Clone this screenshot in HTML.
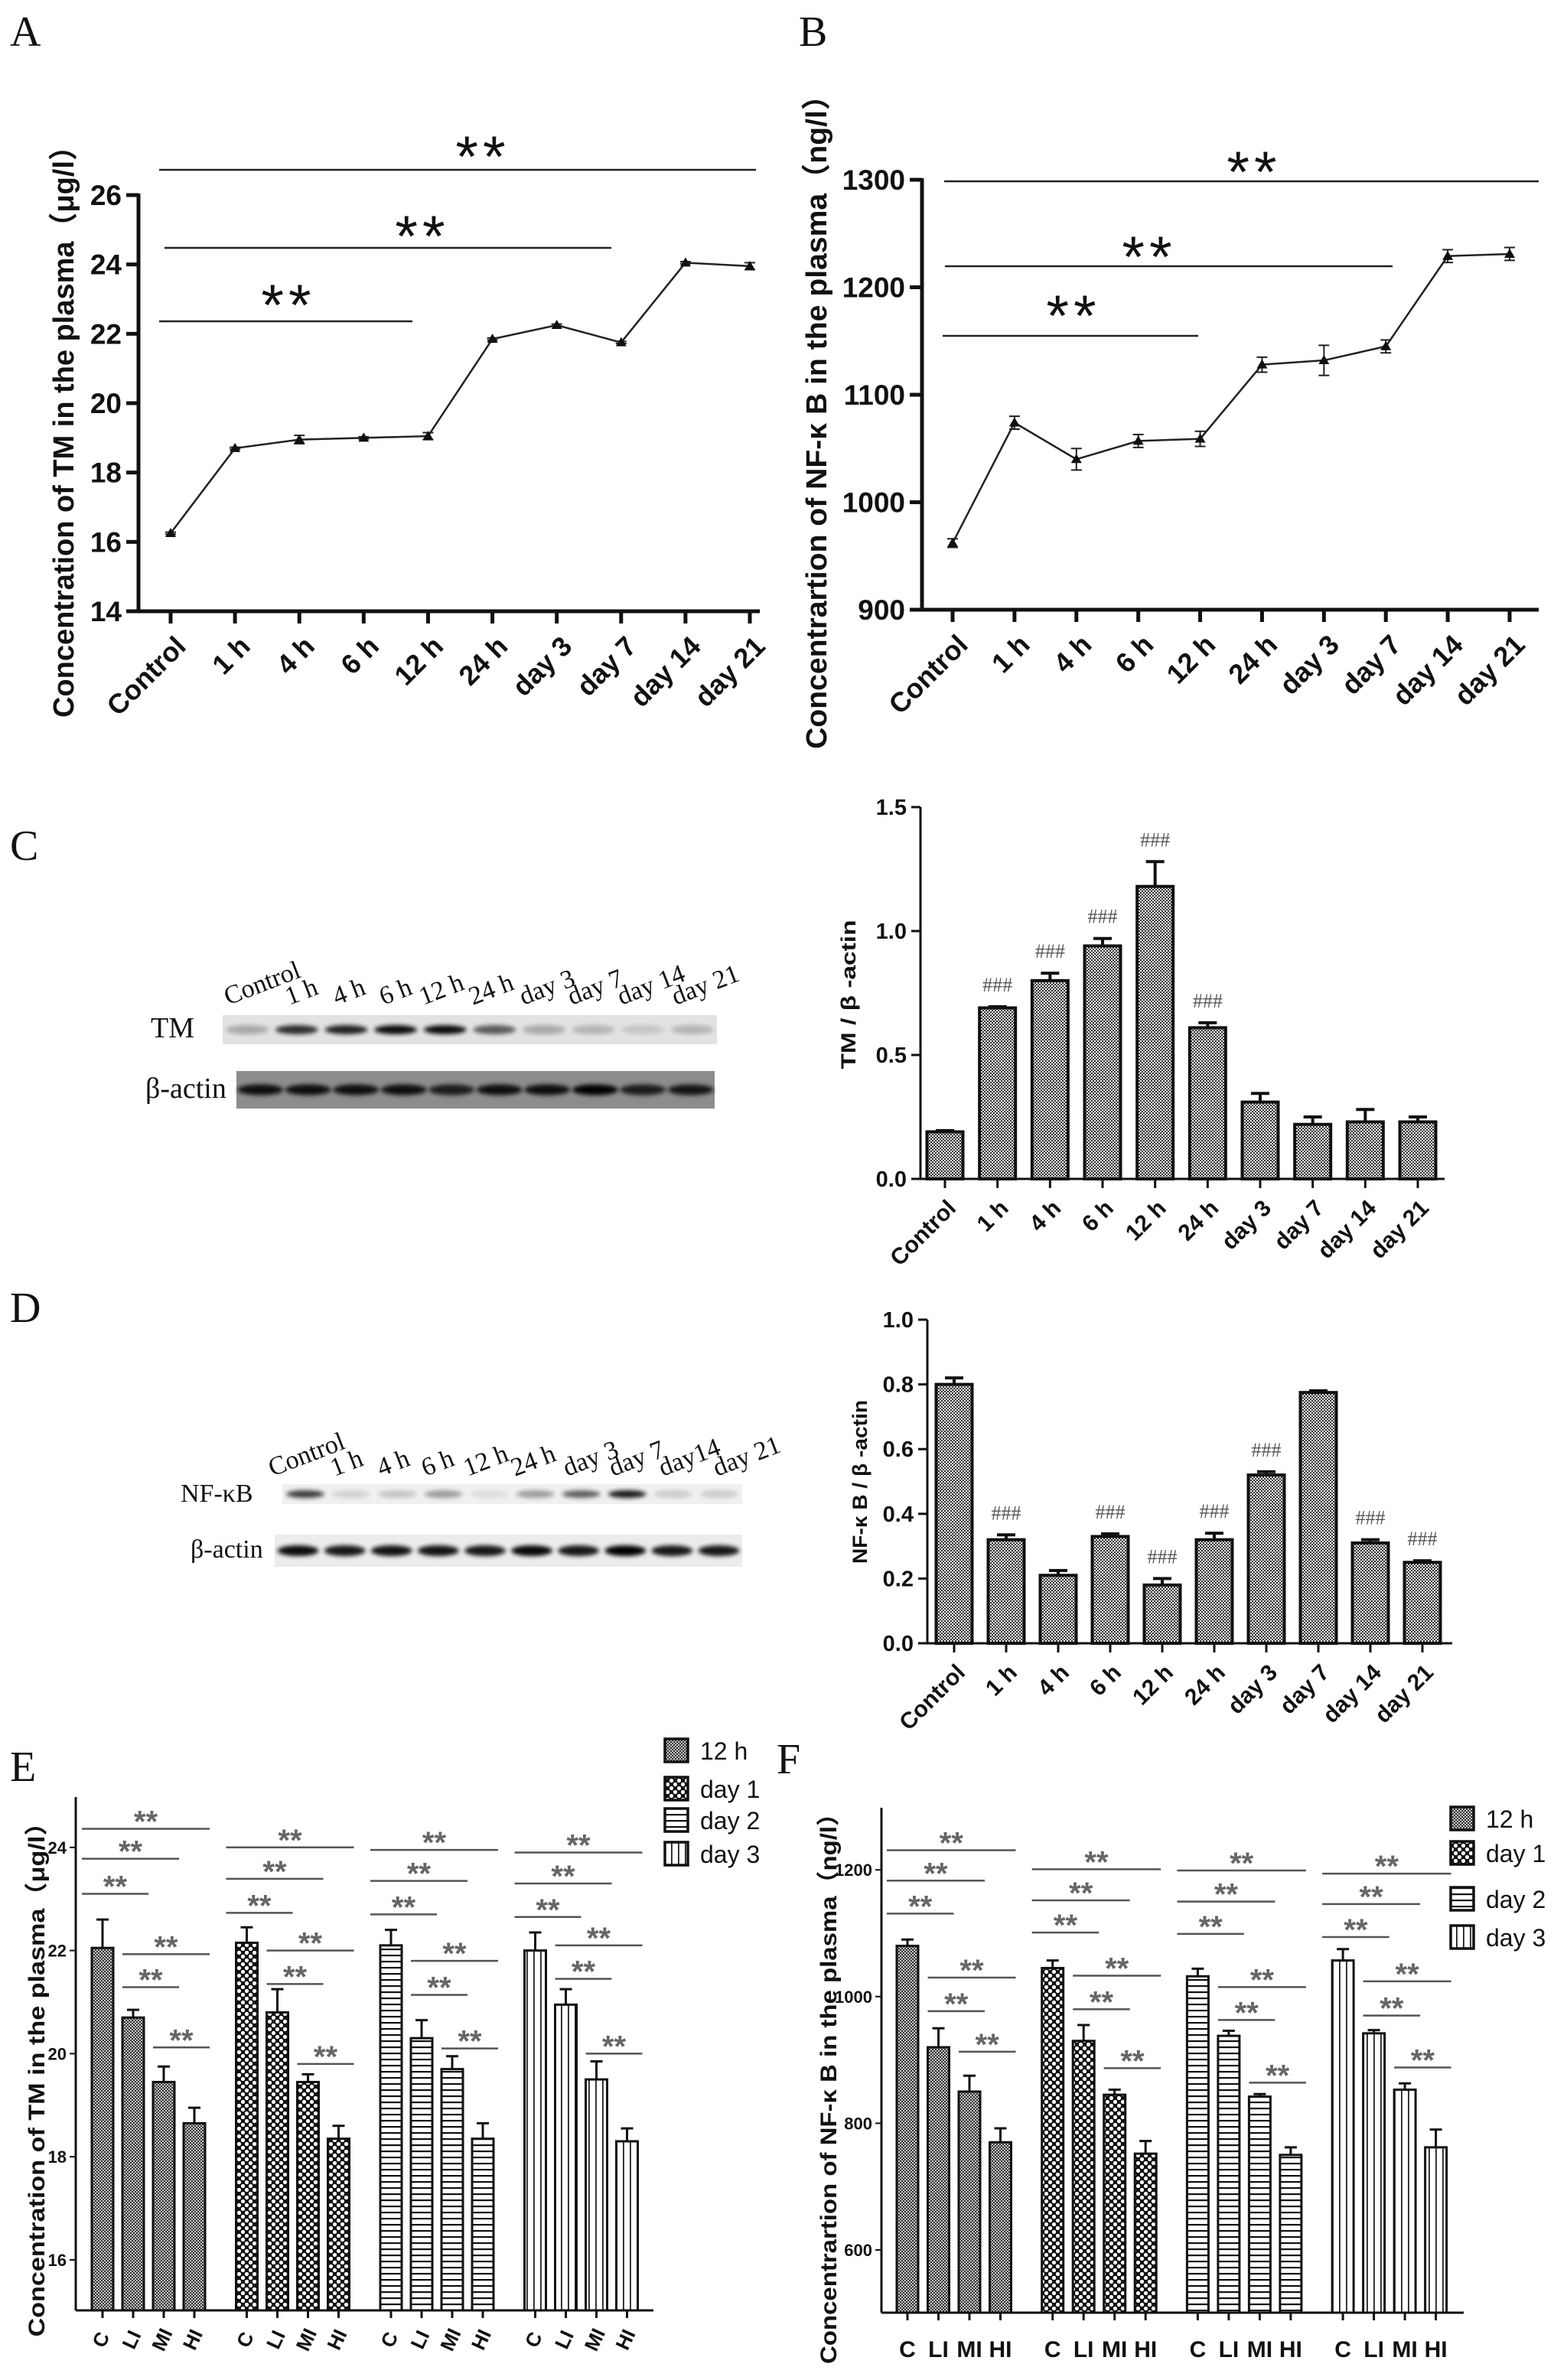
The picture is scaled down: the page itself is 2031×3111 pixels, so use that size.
<!DOCTYPE html>
<html><head><meta charset="utf-8"><style>
html,body{margin:0;padding:0;background:#fff;}
svg{display:block;}
</style></head><body>
<svg id="fig" xmlns="http://www.w3.org/2000/svg" width="2031" height="3111" viewBox="0 0 2031 3111">
<defs>
<pattern id="pFine" width="4" height="4" patternUnits="userSpaceOnUse"><rect width="4" height="4" fill="#eeeeee"/><rect width="2" height="2" fill="#333"/><rect x="2" y="2" width="2" height="2" fill="#333"/></pattern>
<pattern id="p12h" width="4" height="4" patternUnits="userSpaceOnUse"><rect width="4" height="4" fill="#c4c4c4"/><rect width="2" height="2" fill="#333"/><rect x="2" y="2" width="2" height="2" fill="#333"/></pattern>
<pattern id="pDay1" width="10" height="10" patternUnits="userSpaceOnUse"><rect width="10" height="10" fill="#111"/><circle cx="2.5" cy="2.5" r="2.6" fill="#fff"/><circle cx="7.5" cy="7.5" r="2.6" fill="#fff"/></pattern>
<pattern id="pDay2" width="8" height="8" patternUnits="userSpaceOnUse"><rect width="8" height="8" fill="#fff"/><rect y="3" width="8" height="2.2" fill="#111"/></pattern>
<pattern id="pDay3" width="9" height="9" patternUnits="userSpaceOnUse"><rect width="9" height="9" fill="#fff"/><rect x="4" width="1.8" height="9" fill="#222"/></pattern>
<filter id="blur" x="-30%" y="-100%" width="160%" height="300%"><feGaussianBlur stdDeviation="3"/></filter>
</defs>
</svg>
<script>
// ---------- data ----------
const cats = ['Control','1 h','4 h','6 h','12 h','24 h','day 3','day 7','day 14','day 21'];
const tmPlasma = [16.25,18.7,18.95,19.0,19.05,21.85,22.25,21.75,24.05,23.95];
const tmPlasmaErr = [0.03,0.03,0.12,0.03,0.1,0.03,0.03,0.03,0.03,0.1];
const tmPlasmaTicks = [14,16,18,20,22,24,26];
const nfPlasma = [962,1074,1040,1057,1059,1128,1132,1145,1229,1231];
const nfPlasmaErr = [4,6,10,6,7,7,14,6,6,6];
const nfPlasmaTicks = [900,1000,1100,1200,1300];
const tmRatio = [0.19,0.69,0.80,0.94,1.18,0.61,0.31,0.22,0.23,0.23];
const tmRatioErr = [0.005,0.005,0.03,0.03,0.10,0.02,0.035,0.03,0.05,0.02];
const tmRatioHash = [0,1,1,1,1,1,0,0,0,0];
const tmRatioTicks = [0,0.5,1.0,1.5];
const nfRatio = [0.80,0.32,0.21,0.33,0.18,0.32,0.52,0.775,0.31,0.25];
const nfRatioErr = [0.02,0.015,0.015,0.008,0.02,0.02,0.01,0.005,0.01,0.005];
const nfRatioHash = [0,1,0,1,1,1,1,0,1,1];
const nfRatioTicks = [0,0.2,0.4,0.6,0.8,1.0];
const blotLanesC = ['Control','1 h','4 h','6 h','12 h','24 h','day 3','day 7','day 14','day 21'];
const tmBand = [0.25,0.8,0.85,0.95,0.95,0.6,0.25,0.2,0.12,0.2];
const actinBandC = [0.9,0.9,0.9,0.9,0.8,0.9,0.9,1.0,0.8,0.85];
const blotLanesD = ['Control','1 h','4 h','6 h','12 h','24 h','day 3','day 7','day14','day 21'];
const nfBand = [0.75,0.12,0.18,0.35,0.08,0.35,0.6,0.9,0.15,0.15];
const actinBandD = [0.95,0.9,0.92,0.92,0.9,0.97,0.9,1.0,0.9,0.9];
const doseGroups = ['C','LI','MI','HI'];
const timepoints = ['12 h','day 1','day 2','day 3'];
const eVal12h = [22.05,20.7,19.45,18.65];
const eValDay1 = [22.15,20.8,19.45,18.35];
const eValDay2 = [22.1,20.3,19.7,18.35];
const eValDay3 = [22.0,20.95,19.5,18.3];
const eErr12h = [0.55,0.15,0.3,0.3];
const eErrDay1 = [0.3,0.45,0.15,0.25];
const eErrDay2 = [0.3,0.35,0.25,0.3];
const eErrDay3 = [0.35,0.3,0.35,0.25];
const eTicks = [16,18,20,22,24];
const fVal12h = [1080,920,850,770];
const fValDay1 = [1045,930,845,752];
const fValDay2 = [1032,938,842,750];
const fValDay3 = [1057,942,853,762];
const fErr12h = [10,30,25,22];
const fErrDay1 = [12,25,8,20];
const fErrDay2 = [12,8,4,12];
const fErrDay3 = [18,5,10,28];
const fTicks = [600,800,1000,1200];
const sigPairs = [[0,3],[0,2],[0,1],[1,3],[1,2],[2,3]];
const eSig12h = [24.36,23.78,23.1,21.93,21.29,20.12];
const eSigDay1 = [24.0,23.39,22.73,22.0,21.35,19.8];
const eSigDay2 = [23.95,23.35,22.7,21.8,21.14,20.1];
const eSigDay3 = [23.9,23.3,22.65,22.1,21.45,20.0];
const fSig12h = [1231,1183,1131,1030,977,913];
const fSigDay1 = [1201,1152,1101,1033,980,887];
const fSigDay2 = [1199,1150,1099,1015,963,864];
const fSigDay3 = [1194,1146,1094,1024,970,888];

// ---------- helpers ----------
const NS='http://www.w3.org/2000/svg';
const svg=document.getElementById('fig');
function mk(tag,attrs,parent){const e=document.createElementNS(NS,tag);for(const k in attrs)e.setAttribute(k,attrs[k]);(parent||svg).appendChild(e);return e;}
function txt(s,attrs,parent){const e=mk('text',attrs,parent);e.textContent=s;return e;}
const SANS='"Liberation Sans", "Noto Sans CJK SC", sans-serif';
const NARROW='"Liberation Sans Narrow", "Liberation Sans", sans-serif';
const SERIF='"Liberation Serif", serif';

function panelLetter(s,x,y){
  const t=txt(s,{x:x,y:y,'font-family':SERIF,'font-size':56,fill:'#111'});
  
  
}

// ---------- line charts A, B ----------
function lineChart(o){
  const g=mk('g',{});
  
  
  const vmin=o.ticks[0], vmax=o.ticks[o.ticks.length-1];
  const y=v=>o.yBot-(v-vmin)/(vmax-vmin)*(o.yBot-o.yTop);
  const x=i=>o.x0+i*(o.x1-o.x0)/(o.cats.length-1);
  const ya=mk('line',{x1:o.axisX,y1:o.yTop-2,x2:o.axisX,y2:o.yBot,stroke:'#111','stroke-width':5},g);
  
  
  const xa=mk('line',{x1:o.axisX-2,y1:o.yBot,x2:o.axisRight,y2:o.yBot,stroke:'#111','stroke-width':5},g);
  
  
  o.ticks.forEach(v=>{
    mk('line',{x1:o.axisX-16,y1:y(v),x2:o.axisX,y2:y(v),stroke:'#111','stroke-width':5},g);
    const t=txt(String(v),{x:o.axisX-22,y:y(v)+13,'text-anchor':'end','font-family':SANS,'font-weight':'bold','font-size':37,fill:'#111'},g);
    
    
  });
  o.cats.forEach((c,i)=>{
    mk('line',{x1:x(i),y1:o.yBot,x2:x(i),y2:o.yBot+16,stroke:'#111','stroke-width':5},g);
    const t=txt(c,{x:0,y:0,'text-anchor':'end','font-family':SANS,'font-weight':'bold','font-size':36,fill:'#111',transform:`translate(${x(i)+22},${o.yBot+48}) rotate(-45)`},g);
    
    
  });
  const tt=txt(o.title,{x:0,y:0,'text-anchor':'middle','font-family':SANS,'font-weight':'bold','font-size':38,fill:'#111',textLength:o.titleLen,lengthAdjust:'spacingAndGlyphs',transform:`translate(${o.titleX},${o.titleY}) rotate(-90)`},g);
  
  
  const pts=o.vals.map((v,i)=>x(i)+','+y(v)).join(' ');
  const pl=mk('polyline',{points:pts,fill:'none',stroke:'#222','stroke-width':2.5},g);
  
  
  o.vals.forEach((v,i)=>{
    const e=o.errs[i];
    const eb=mk('path',{d:`M${x(i)},${y(v+e)}V${y(v-e)}M${x(i)-7},${y(v+e)}H${x(i)+7}M${x(i)-7},${y(v-e)}H${x(i)+7}`,stroke:'#222','stroke-width':2,fill:'none'},g);
    
    
    const cx=x(i),cy=y(v);
    const m=mk('polygon',{points:`${cx},${cy-7} ${cx-7},${cy+5} ${cx+7},${cy+5}`,fill:'#111'},g);
    
    
  });
  o.sig.forEach(s=>{
    const l=mk('line',{x1:s[0],y1:s[2],x2:s[1],y2:s[2],stroke:'#222','stroke-width':2.5},g);
    
    
    const st=txt('**',{x:s[3],y:s[4]+40,'text-anchor':'middle','font-family':SANS,'font-size':76,'letter-spacing':6,fill:'#111'},g);
    
    
  });
}
panelLetter('A',13,60);
lineChart({name:'chart-a-tm-plasma',cats:cats,vals:tmPlasma,errs:tmPlasmaErr,ticks:tmPlasmaTicks,axisX:181,yTop:255,yBot:799,x0:223,x1:980,axisRight:993,
  title:'Concentration of TM in the plasma（μg/l）',titleX:96,titleY:555,titleLen:766,
  sig:[[208,988,222,631,191],[215,799,324,552,295],[208,539,420,377,385]]});
panelLetter('B',1044,60);
lineChart({name:'chart-b-nfkb-plasma',cats:cats,vals:nfPlasma,errs:nfPlasmaErr,ticks:nfPlasmaTicks,axisX:1205,yTop:235,yBot:797,x0:1245,x1:1973,axisRight:2011,
  title:'Concentrartion of NF-κ B in the  plasma（ng/l）',titleX:1080,titleY:542,titleLen:874,
  sig:[[1234,2011,237,1639,211],[1235,1820,348,1502,322],[1232,1566,439,1403,399]]});

// ---------- blots ----------
function blot(o){
  const g=mk('g',{});
  
  
  o.lanes.forEach((s,i)=>{
    const t=txt(s,{x:0,y:0,'font-family':SERIF,'font-size':34,fill:'#111',transform:`translate(${o.labelX[i]},${o.labelY}) rotate(-21)`},g);
    
    
  });
  o.rows.forEach(r=>{
    const lab=txt(r.label,{x:r.lx,y:r.ly,'font-family':SERIF,'font-size':r.fs,fill:'#111'},g);
    
    
    const bg=mk('rect',{x:r.x,y:r.y,width:r.w,height:r.h,fill:r.bg},g);
    
    
    r.band.forEach((a,i)=>{
      const cx=r.x+r.w*(i+0.5)/r.band.length;
      const b=mk('ellipse',{cx:cx,cy:r.y+r.h/2,rx:r.bw,ry:r.bh,fill:'#000',opacity:a,filter:'url(#blur)'},g);
      
      
    });
  });
}
panelLetter('C',13,1124);
blot({name:'blot-c-tm',lanes:blotLanesC,labelX:[298,378,440,501,553,618,684,747,812,883],labelY:1314,
  rows:[{label:'TM',lx:197,ly:1356,fs:38,x:291,y:1327,w:646,h:38,bg:'#e2e2e2',band:tmBand,bw:28,bh:6},
        {label:'β-actin',lx:190,ly:1435,fs:38,x:309,y:1400,w:625,h:49,bg:'#8c8c8c',band:actinBandC,bw:30,bh:7}]});
panelLetter('D',13,1728);
blot({name:'blot-d-nfkb',lanes:blotLanesD,labelX:[356,437,498,556,611,673,741,801,866,937],labelY:1930,
  rows:[{label:'NF-κB',lx:236,ly:1963,fs:34,x:369,y:1940,w:601,h:26,bg:'#f0f0f0',band:nfBand,bw:25,bh:5},
        {label:'β-actin',lx:249,ly:2036,fs:34,x:359,y:2006,w:611,h:42,bg:'#ececec',band:actinBandD,bw:27,bh:7}]});

// ---------- bar charts C, D ----------
function barChart(o){
  const g=mk('g',{});
  
  
  const vmax=o.ticks[o.ticks.length-1];
  const y=v=>o.yBot-v/vmax*(o.yBot-o.yTop);
  const x=i=>o.x0+i*(o.x1-o.x0)/(o.cats.length-1);
  o.vals.forEach((v,i)=>{
    const b=mk('rect',{x:x(i)-o.bw/2,y:y(v),width:o.bw,height:o.yBot-y(v),fill:'url(#pFine)',stroke:'#111','stroke-width':4},g);
    
    
    const e=o.errs[i];
    const eb=mk('path',{d:`M${x(i)},${y(v)}V${y(v+e)}M${x(i)-12},${y(v+e)}H${x(i)+12}`,stroke:'#111','stroke-width':4,fill:'none'},g);
    
    
    if(o.hash[i]){
      const h=txt('###',{x:x(i),y:y(v+e)-20,'text-anchor':'middle','font-family':SERIF,'font-size':26,fill:'#555'},g);
      
      
    }
  });
  const ya=mk('line',{x1:o.axisX,y1:o.yTop,x2:o.axisX,y2:o.yBot,stroke:'#111','stroke-width':3},g);
  
  
  const xa=mk('line',{x1:o.axisX,y1:o.yBot,x2:o.axisRight,y2:o.yBot,stroke:'#111','stroke-width':3},g);
  
  
  o.ticks.forEach(v=>{
    mk('line',{x1:o.axisX-12,y1:y(v),x2:o.axisX,y2:y(v),stroke:'#111','stroke-width':3},g);
    const t=txt(v.toFixed(1),{x:o.axisX-18,y:y(v)+10,'text-anchor':'end','font-family':SANS,'font-weight':'bold','font-size':29,fill:'#111'},g);
    
    
  });
  o.cats.forEach((c,i)=>{
    mk('line',{x1:x(i),y1:o.yBot,x2:x(i),y2:o.yBot+12,stroke:'#111','stroke-width':3},g);
    const t=txt(c,{x:0,y:0,'text-anchor':'end','font-family':SANS,'font-weight':'bold','font-size':30,fill:'#111',transform:`translate(${x(i)+16},${o.yBot+40}) rotate(-45)`},g);
    
    
  });
  const tt=txt(o.title,{x:0,y:0,'text-anchor':'middle','font-family':SANS,'font-weight':'bold','font-size':27,fill:'#111',textLength:o.titleLen,lengthAdjust:'spacingAndGlyphs',transform:`translate(${o.titleX},${o.titleY}) rotate(-90)`},g);
  
  
}
barChart({name:'chart-c-tm-ratio',cats:cats,vals:tmRatio,errs:tmRatioErr,hash:tmRatioHash,ticks:tmRatioTicks,axisX:1203,axisRight:1888,yTop:1055,yBot:1541,x0:1235,x1:1853,bw:47,
  title:'TM / β -actin',titleX:1118,titleY:1300,titleLen:195});
barChart({name:'chart-d-nfkb-ratio',cats:cats,vals:nfRatio,errs:nfRatioErr,hash:nfRatioHash,ticks:nfRatioTicks,axisX:1212,axisRight:1898,yTop:1725,yBot:2148,x0:1247,x1:1859,bw:47,
  title:'NF-κ B / β -actin',titleX:1133,titleY:1937,titleLen:214});

// ---------- grouped charts E, F ----------
const fills=['url(#p12h)','url(#pDay1)','url(#pDay2)','url(#pDay3)'];
function groupChart(o){
  const g=mk('g',{});
  
  
  const y=v=>o.yRef-(v-o.vRef)*o.ppu;
  const x=(gi,bi)=>o.gx0+gi*o.gStep+bi*o.bStep;
  o.vals.forEach((arr,gi)=>{
    arr.forEach((v,bi)=>{
      const cx=x(gi,bi);
      const b=mk('rect',{x:cx-o.bw/2,y:y(v),width:o.bw,height:o.yBot-y(v),fill:fills[gi],stroke:'#111','stroke-width':3},g);
      
      
      const e=o.errs[gi][bi];
      const eb=mk('path',{d:`M${cx},${y(v)}V${y(v+e)}M${cx-8},${y(v+e)}H${cx+8}`,stroke:'#111','stroke-width':3,fill:'none'},g);
      
      
    });
    sigPairs.forEach((p,k)=>{
      const ly=y(o.sig[gi][k]);
      const x1=x(gi,p[0])-(p[0]===0?27:14), x2=x(gi,p[1])+20;
      const l=mk('line',{x1:x1,y1:ly,x2:x2,y2:ly,stroke:'#555','stroke-width':2.5},g);
      
      
      const st=txt('**',{x:(x1+x2)/2,y:ly+4,'text-anchor':'middle','font-family':SANS,'font-weight':'bold','font-size':40,fill:'#666'},g);
      
      
    });
    doseGroups.forEach((d,bi)=>{
      const cx=x(gi,bi);
      mk('line',{x1:cx,y1:o.yBot,x2:cx,y2:o.yBot+10,stroke:'#111','stroke-width':3},g);
      const t=o.rotLabels
        ? txt(d,{x:0,y:0,'text-anchor':'middle','font-family':SANS,'font-weight':'bold','font-size':26,fill:'#111',transform:`translate(${cx+6},${o.yBot+42}) rotate(-65)`},g)
        : txt(d,{x:cx,y:o.yBot+58,'text-anchor':'middle','font-family':NARROW,'font-weight':'bold','font-size':30,fill:'#111'},g);
      
      
    });
  });
  const ya=mk('line',{x1:o.axisX,y1:o.yTop,x2:o.axisX,y2:o.yBot,stroke:'#111','stroke-width':3},g);
  
  
  const xa=mk('line',{x1:o.axisX,y1:o.yBot,x2:o.axisRight,y2:o.yBot,stroke:'#111','stroke-width':3},g);
  
  
  o.ticks.forEach(v=>{
    mk('line',{x1:o.axisX-8,y1:y(v),x2:o.axisX,y2:y(v),stroke:'#111','stroke-width':2},g);
    const t=txt(String(v),{x:o.axisX-12,y:y(v)+8,'text-anchor':'end','font-family':NARROW,'font-weight':'bold','font-size':22,fill:'#111'},g);
    
    
  });
  const tt=txt(o.title,{x:0,y:0,'text-anchor':'middle','font-family':SANS,'font-weight':'bold','font-size':30,fill:'#111',textLength:o.titleLen,lengthAdjust:'spacingAndGlyphs',transform:`translate(${o.titleX},${o.titleY}) rotate(-90)`},g);
  
  
  timepoints.forEach((tp,i)=>{
    const ly=o.legY[i];
    const box=mk('rect',{x:o.legX,y:ly-15,width:30,height:30,fill:fills[i],stroke:'#111','stroke-width':3.5},g);
    
    
    const t=txt(tp,{x:o.legX+46,y:ly+12,'font-family':NARROW,'font-size':32,fill:'#111'},g);
    
    
  });
}
panelLetter('E',13,2328);
groupChart({name:'chart-e-tm-dose',vals:[eVal12h,eValDay1,eValDay2,eValDay3],errs:[eErr12h,eErrDay1,eErrDay2,eErrDay3],sig:[eSig12h,eSigDay1,eSigDay2,eSigDay3],
  ticks:eTicks,vRef:16,yRef:2954,ppu:67.4,yTop:2349,yBot:3020,axisX:99,axisRight:854,gx0:134,gStep:188.5,bStep:40,bw:28,rotLabels:true,
  title:'Concentration of TM in the plasma（μg/l）',titleX:58,titleY:2710,titleLen:689,legX:869,legY:[2288,2338,2379,2423]});
panelLetter('F',1015,2318);
groupChart({name:'chart-f-nfkb-dose',vals:[fVal12h,fValDay1,fValDay2,fValDay3],errs:[fErr12h,fErrDay1,fErrDay2,fErrDay3],sig:[fSig12h,fSigDay1,fSigDay2,fSigDay3],
  ticks:fTicks,vRef:600,yRef:2941,ppu:0.828,yTop:2363,yBot:3023,axisX:1152,axisRight:1913,gx0:1186,gStep:189.7,bStep:40.5,bw:28,rotLabels:false,
  title:'Concentrartion of NF-κ B in the  plasma（ng/l）',titleX:1093,titleY:2722,titleLen:736,legX:1896,legY:[2377,2422,2482,2532]});
</script>
</body></html>
